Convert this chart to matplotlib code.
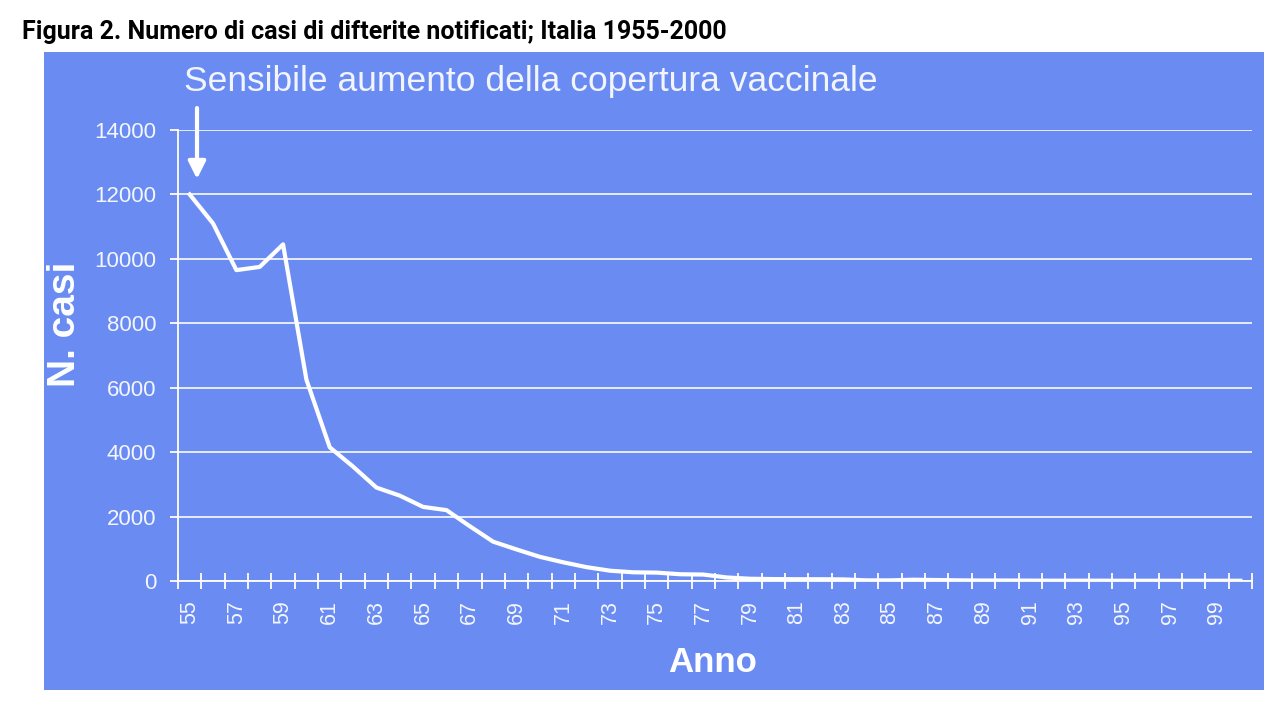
import numpy as np
import matplotlib.pyplot as plt
from matplotlib.patches import Rectangle

# casi di difterite notificati, anni 1955-2000
anni = list(range(1955, 2001))
casi = [12000, 11100, 9650, 9750, 10450, 6250, 4150, 3550, 2900, 2650,
        2300, 2200, 1700, 1220, 980, 750, 580, 430, 320, 270,
        260, 210, 200, 110, 70, 60, 55, 55, 50, 20,
        20, 40, 30, 20, 15, 15, 12, 10, 10, 10,
        8, 8, 8, 8, 8, 8]
tick_labels = ['%02d' % (a % 100) for a in anni]

blu = '#6A8CF2'
fig = plt.figure(figsize=(12.8, 7.28), dpi=100)
fig.patches.append(Rectangle((44/1280, 1-690/728), 1220/1280, 638/728,
                             transform=fig.transFigure, facecolor=blu,
                             edgecolor='none', zorder=-5))

ax = fig.add_axes([178/1280, 1-581/728, 1074/1280, 451/728])
ax.set_facecolor('none')

x = np.arange(len(anni))
ax.plot(x, casi, color='white', lw=3, solid_joinstyle='round', zorder=3)

ax.set_xlim(-0.5, len(anni) - 0.5)
ax.set_ylim(0, 14000)
ax.set_yticks(range(0, 14001, 2000))
ax.grid(axis='y', color='white', lw=1.3, alpha=0.9)
ax.set_axisbelow(True)

# tick di categoria sui bordi, etichette al centro
ax.set_xticks(np.arange(-0.5, len(anni)), minor=False)
ax.set_xticklabels([])
ax.set_xticks(x[::2], minor=True)
ax.set_xticklabels(tick_labels[::2], minor=True, rotation=90)
ax.tick_params(axis='x', which='major', direction='inout', length=11.5,
               color='white', width=1.3)
ax.tick_params(axis='x', which='minor', length=0, pad=13.5,
               labelcolor='#F4F6FF', labelsize=15.5)
ax.tick_params(axis='y', direction='out', length=6, color='white',
               width=1.3, labelcolor='#F4F6FF', labelsize=16, pad=9.5)
for lab in ax.get_yticklabels() + ax.get_xticklabels(minor=True):
    lab.set_family('Liberation Sans')

for s in ['top', 'right']:
    ax.spines[s].set_visible(False)
ax.spines['left'].set_color('white')
ax.spines['bottom'].set_color('white')
ax.spines['left'].set_linewidth(1.3)
ax.spines['bottom'].set_linewidth(1.3)

fig.text(65/1280, 1-324/728, 'N. casi', rotation=90, ha='center', va='center',
         color='white', fontsize=28, fontweight='bold', family='Liberation Sans')
fig.text(713/1280, 1-662/728, 'Anno', ha='center', va='center',
         color='white', fontsize=25, fontweight='bold', family='Liberation Sans')

fig.text(184/1280, 1-82/728, 'Sensibile aumento della copertura vaccinale',
         ha='left', va='center', color='#F2F4FE', fontsize=25.5,
         family='Liberation Sans')
ax.annotate('', xy=(197/1280, 1-179/728), xytext=(197/1280, 1-108/728),
            xycoords='figure fraction', textcoords='figure fraction',
            arrowprops=dict(arrowstyle='-|>', color='white', lw=3,
                            mutation_scale=26, shrinkA=0, shrinkB=0))

fig.text(22/1280, 1-32/728,
         'Figura 2. Numero di casi di difterite notificati; Italia 1955-2000',
         ha='left', va='center', fontsize=18, fontweight='bold',
         family=['Liberation Sans Narrow', 'Roboto', 'DejaVu Sans'],
         fontstretch='condensed')

fig.savefig('out.png', dpi=100)
